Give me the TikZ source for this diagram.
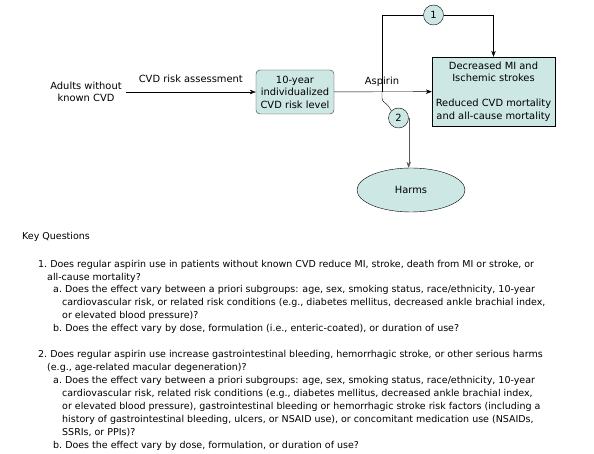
\documentclass[tikz,border=0pt]{standalone}
\usepackage{fontspec}
\setmainfont{DejaVu Sans}
\usetikzlibrary{shapes,positioning,arrows.meta}
\definecolor{boxfill}{RGB}{205,231,228}
\tikzstyle{lbl}=   [inner sep=0,
align=center,
font=\fontsize{9.9}{12.6}\selectfont,
]
\tikzstyle{level}= [draw=black!80,
rounded corners=4pt,
fill=boxfill,
minimum width=78pt,
minimum height=44pt,
inner sep=0,
align=center,
font=\fontsize{9.9}{12.6}\selectfont,
]
\tikzstyle{outcome}= [draw,
rectangle,
fill=boxfill,
minimum width=123pt,
minimum height=69pt,
inner sep=0,
align=center,
font=\fontsize{9.9}{12.6}\selectfont,
]
\tikzstyle{harm}=  [draw,
ellipse,
fill=boxfill,
minimum width=108pt,
minimum height=44pt,
font=\fontsize{9.9}{12.6}\selectfont,
]
\tikzstyle{kq}=    [draw,
circle,
fill=boxfill,
minimum size=20pt,
inner sep=0,
font=\fontsize{9.9}{12.6}\selectfont,
]
\tikzstyle{qtext}= [anchor=base west,
inner sep=0,
align=left,
font=\fontsize{9.5}{12.9}\selectfont,
]
\tikzstyle{tip}=   [-{Stealth[length=6pt,width=4.5pt]}]

\begin{document}
\begin{tikzpicture}[x=1pt, y=-1pt]
        \useasboundingbox (0,0) rectangle (594,454);
        \node[lbl] (adults) at (86,92) {Adults without\\known CVD};
        \node[level] (risk_level) at (295,92) {10-year\\individualized\\CVD risk level};
        \node[outcome] (outcome) at (493.5,91.5) {Decreased MI and\\Ischemic strokes\\[12.6pt]Reduced CVD mortality\\and all-cause mortality};
        \node[kq] (kq1) at (433.5,15) {1};
        \node[kq] (kq2) at (398.5,118) {2};
        \node[harm] (harms) at (411,190) {Harms};
        \coordinate (split) at (382,92);
        \coordinate (bend) at (382,101);

        \draw[tip] (adults.east) ++(4,0) coordinate (adults_out) -- (risk_level)
        node[lbl, midway, above=9pt] {CVD risk assessment};
        \draw[tip] (risk_level) -- (outcome);
        \node[lbl, above=5pt of split] (aspirin) {Aspirin};
        \draw (split) |- (kq1);
        \draw[tip] (kq1) -| (outcome);
        \draw[rounded corners=3pt] (split) -- (bend) -- ++(6,4) -- (kq2.135);
        \draw[tip, black!65] (kq2.east) -- (kq2.east |- harms.north);

        % key questions
        \node[qtext] (kq_title) at (22,240) {Key Questions};
        \node[qtext] (q1) at (38,280) {1.\ Does regular aspirin use in patients without known CVD reduce MI, stroke, death from MI or stroke, or\\\hspace*{9pt}all-cause mortality?};
        \node[qtext] (q1a) at (53,318) {a.\ Does the effect vary between a priori subgroups: age, sex, smoking status, race/ethnicity, 10-year\\\hspace*{9pt}cardiovascular risk, or related risk conditions (e.g., diabetes mellitus, decreased ankle brachial index,\\\hspace*{9pt}or elevated blood pressure)?};
        \node[qtext] (q1b) at (53,331) {b.\ Does the effect vary by dose, formulation (i.e., enteric-coated), or duration of use?};
        \node[qtext] (q2) at (38,370) {2.\ Does regular aspirin use increase gastrointestinal bleeding, hemorrhagic stroke, or other serious harms\\\hspace*{9pt}(e.g., age-related macular degeneration)?};
        \node[qtext] (q2a) at (53,435) {a.\ Does the effect vary between a priori subgroups: age, sex, smoking status, race/ethnicity, 10-year\\\hspace*{9pt}cardiovascular risk, related risk conditions (e.g., diabetes mellitus, decreased ankle brachial index,\\\hspace*{9pt}or elevated blood pressure), gastrointestinal bleeding or hemorrhagic stroke risk factors (including a\\\hspace*{9pt}history of gastrointestinal bleeding, ulcers, or NSAID use), or concomitant medication use (NSAIDs,\\\hspace*{9pt}SSRIs, or PPIs)?};
        \node[qtext] (q2b) at (53,448) {b.\ Does the effect vary by dose, formulation, or duration of use?};
\end{tikzpicture}
\end{document}
